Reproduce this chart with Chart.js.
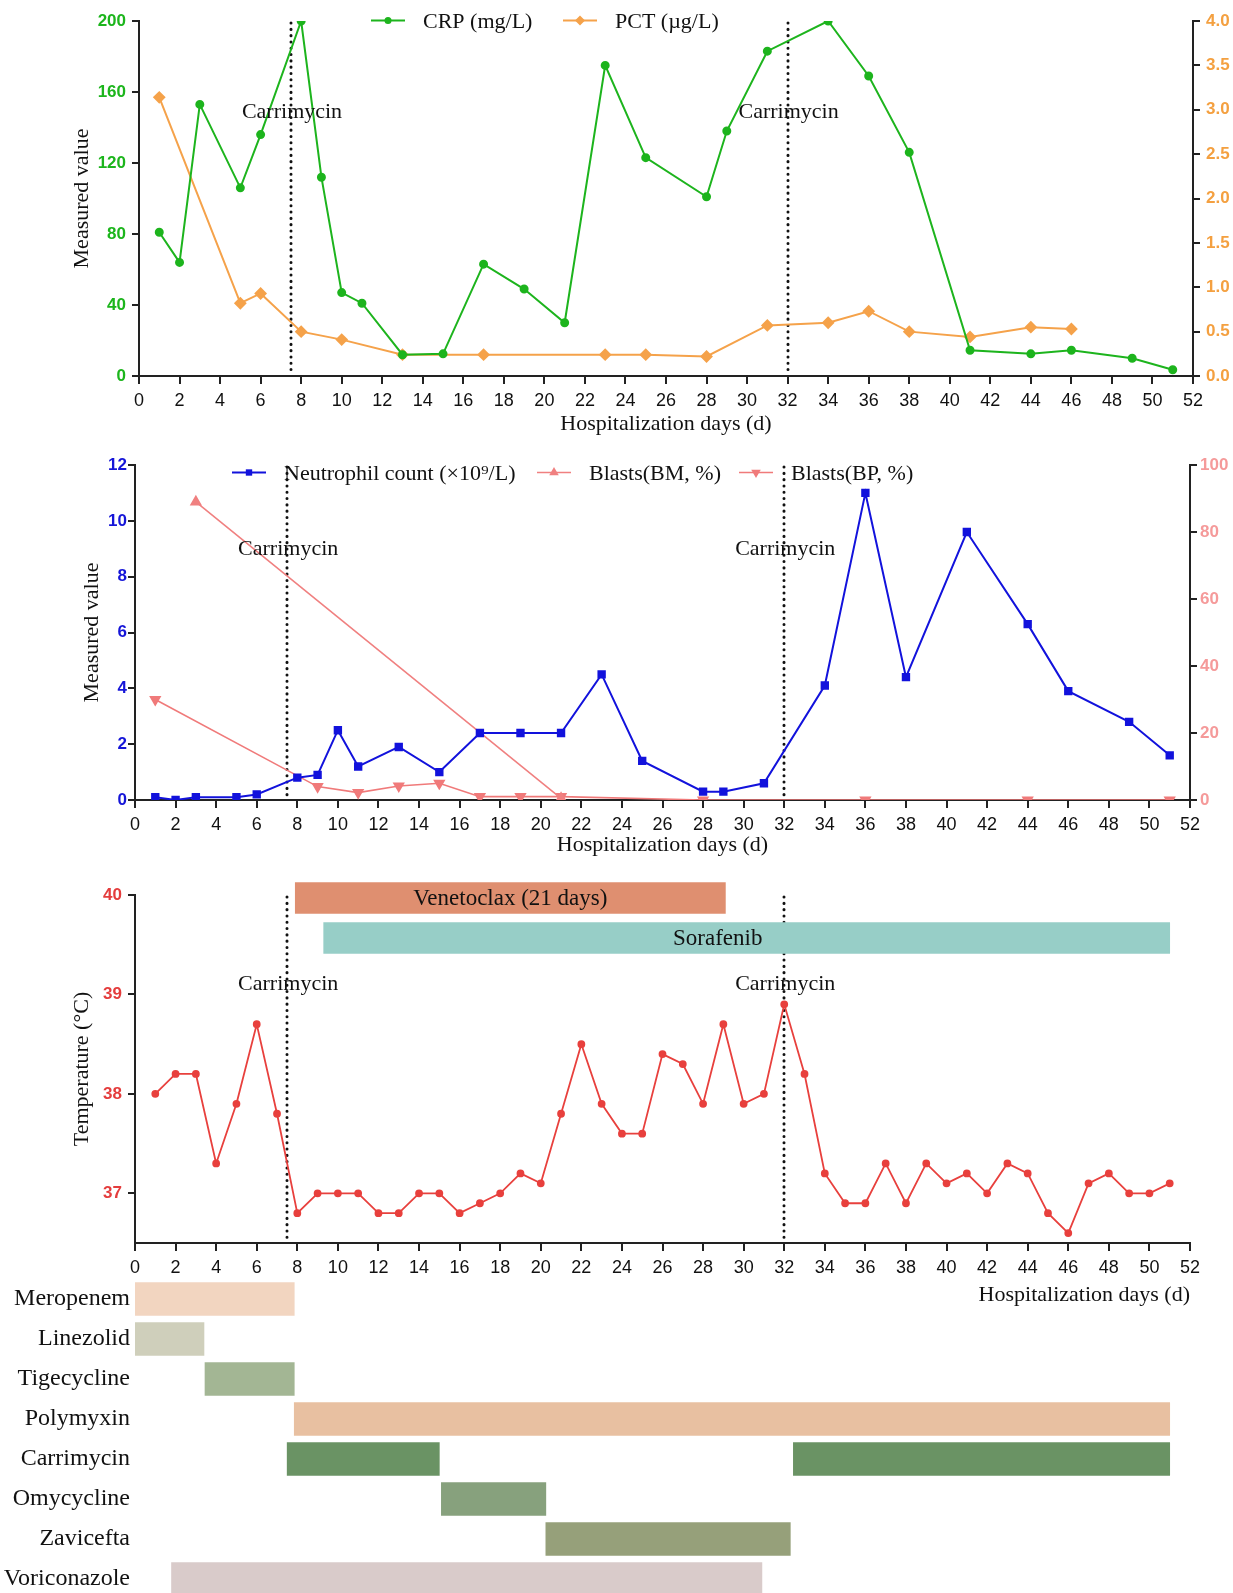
<!DOCTYPE html>
<html lang="en">
<head>
<meta charset="UTF-8">
<title>Clinical course during hospitalization</title>
<script src="https://cdn.jsdelivr.net/npm/chart.js"></script>
<style>
  body { margin: 0; background: #fff; overflow: hidden; }
  #page { position: relative; width: 1233px; height: 1593px; overflow: hidden; background: #fff; }
  #page canvas { position: absolute; left: 0; }
</style>
</head>
<body>
<div id="page">
  <canvas id="inflamChart" width="1233" height="440" style="top:0px"></canvas>
  <canvas id="cellChart" width="1233" height="420" style="top:440px"></canvas>
  <canvas id="tempChart" width="1233" height="460" style="top:860px"></canvas>
  <canvas id="targetChart" width="1233" height="96" style="top:870px"></canvas>
  <canvas id="drugChart" width="1233" height="370" style="top:1254px"></canvas>
</div>

<script>
  // ---- data ----
  const carrimycinStart = [7.5, 32];

  const crpDays   = [1, 2, 3, 5, 6, 8, 9, 10, 11, 13, 15, 17, 19, 21, 23, 25, 28, 29, 31, 34, 36, 38, 41, 44, 46, 49, 51];
  const crpValues = [81, 64, 153, 106, 136, 200, 112, 47, 41, 12, 12.5, 63, 49, 30, 175, 123, 101, 138, 183, 200, 169, 126, 14.5, 12.5, 14.5, 10, 3.5];

  const pctDays   = [1, 5, 6, 8, 10, 13, 17, 23, 25, 28, 31, 34, 36, 38, 41, 44, 46];
  const pctValues = [3.14, 0.82, 0.93, 0.5, 0.41, 0.24, 0.24, 0.24, 0.24, 0.22, 0.57, 0.6, 0.73, 0.5, 0.44, 0.55, 0.53];

  const neutDays   = [1, 2, 3, 5, 6, 8, 9, 10, 11, 13, 15, 17, 19, 21, 23, 25, 28, 29, 31, 34, 36, 38, 41, 44, 46, 49, 51];
  const neutValues = [0.1, 0, 0.1, 0.1, 0.2, 0.8, 0.9, 2.5, 1.2, 1.9, 1.0, 2.4, 2.4, 2.4, 4.5, 1.4, 0.3, 0.3, 0.6, 4.1, 11, 4.4, 9.6, 6.3, 3.9, 2.8, 1.6];

  const bmDays   = [3, 21];
  const bmValues = [89, 0.5];

  const bpDays   = [1, 9, 11, 13, 15, 17, 19, 21, 28, 36, 44, 51];
  const bpValues = [30, 4, 2.2, 4.2, 5, 1, 1, 1, 0, 0, 0, 0];

  const tempDays   = [1, 2, 3, 4, 5, 6, 7, 8, 9, 10, 11, 12, 13, 14, 15, 16, 17, 18, 19, 20, 21, 22, 23, 24, 25, 26,
                      27, 28, 29, 30, 31, 32, 33, 34, 35, 36, 37, 38, 39, 40, 41, 42, 43, 44, 45, 46, 47, 48, 49, 50, 51];
  const tempValues = [38.0, 38.2, 38.2, 37.3, 37.9, 38.7, 37.8, 36.8, 37.0, 37.0, 37.0, 36.8, 36.8, 37.0, 37.0, 36.8, 36.9,
                      37.0, 37.2, 37.1, 37.8, 38.5, 37.9, 37.6, 37.6, 38.4, 38.3, 37.9, 38.7, 37.9, 38.0, 38.9, 38.2, 37.2,
                      36.9, 36.9, 37.3, 36.9, 37.3, 37.1, 37.2, 37.0, 37.3, 37.2, 36.8, 36.6, 37.1, 37.2, 37.0, 37.0, 37.1];
  const tempTicks = [37, 38, 39, 40];

  const targetDrugs = ['Venetoclax (21 days)', 'Sorafenib'];
  const targetStart = [7.9, 9.3];
  const targetEnd   = [29.1, 51];

  const drugs     = ['Meropenem', 'Linezolid', 'Tigecycline', 'Polymyxin', 'Carrimycin', 'Omycycline', 'Zavicefta', 'Voriconazole'];
  const drugStart = [0, 0, 3.45, 7.85, 7.5, 15.1, 20.25, 1.8];
  const drugEnd   = [7.85, 3.4, 7.85, 51, 15.0, 20.25, 32.3, 30.9];
  const carrimycinSecond = [32.45, 51];

  // ---- styles ----
  const SERIF = '"Liberation Serif", "Times New Roman", serif';
  const SANS = '"Liberation Sans", Arial, sans-serif';
  const drugColors = ['#f2d5c0', '#cfcfbb', '#a3b694', '#e8c0a1', '#6a9364', '#87a17d', '#96a07a', '#d9cbca'];
  const targetColors = ['#df8f70', '#97cec7'];

  const pts = (xs, ys) => xs.map((x, i) => ({ x: x, y: ys[i] }));

  function drawMarker(ctx, style, x, y, r, color, rotation) {
    ctx.save();
    ctx.fillStyle = color;
    ctx.beginPath();
    if (style === 'rectRot') {
      ctx.moveTo(x, y - r); ctx.lineTo(x + r, y); ctx.lineTo(x, y + r); ctx.lineTo(x - r, y);
    } else if (style === 'rect') {
      const s = r * Math.SQRT2;
      ctx.rect(x - s / 2, y - s / 2, s, s);
    } else if (style === 'triangle') {
      let a = (rotation || 0) * Math.PI / 180;
      ctx.moveTo(x + Math.sin(a) * r, y - Math.cos(a) * r);
      a += 2 * Math.PI / 3;
      ctx.lineTo(x + Math.sin(a) * r, y - Math.cos(a) * r);
      a += 2 * Math.PI / 3;
      ctx.lineTo(x + Math.sin(a) * r, y - Math.cos(a) * r);
    } else {
      ctx.arc(x, y, r, 0, Math.PI * 2);
    }
    ctx.closePath();
    ctx.fill();
    ctx.restore();
  }

  // legend drawn inside the plot, line + marker like the original
  const lineLegend = {
    id: 'lineLegend',
    afterDraw(chart, args, opts) {
      if (!opts.items) return;
      const ctx = chart.ctx;
      opts.items.forEach(item => {
        const ds = chart.data.datasets[item.ds];
        ctx.save();
        ctx.strokeStyle = ds.borderColor;
        ctx.lineWidth = ds.borderWidth;
        ctx.beginPath();
        ctx.moveTo(item.x, opts.y);
        ctx.lineTo(item.x + 34, opts.y);
        ctx.stroke();
        drawMarker(ctx, ds.pointStyle, item.x + 17, opts.y, ds.pointRadius, ds.borderColor, ds.pointRotation);
        ctx.fillStyle = '#111';
        ctx.font = '22px ' + SERIF;
        ctx.textBaseline = 'middle';
        ctx.textAlign = 'left';
        ctx.fillText(ds.label, item.x + 52, opts.y + 1.5);
        ctx.restore();
      });
    }
  };

  // dotted lines at the start of each carrimycin course
  const carrimycinMarks = {
    id: 'carrimycinMarks',
    beforeDatasetsDraw(chart) {
      const { ctx, chartArea } = chart;
      const xs = chart.scales.x;
      ctx.save();
      ctx.strokeStyle = '#111';
      ctx.lineWidth = 3;
      ctx.lineCap = 'round';
      ctx.setLineDash([0.1, 6.2]);
      carrimycinStart.forEach(d => {
        const px = Math.round(xs.getPixelForValue(d));
        ctx.beginPath();
        ctx.moveTo(px, chartArea.top + 2);
        ctx.lineTo(px, chartArea.bottom - 3);
        ctx.stroke();
      });
      ctx.restore();
    },
    afterDatasetsDraw(chart, args, opts) {
      const { ctx, chartArea } = chart;
      const xs = chart.scales.x;
      ctx.save();
      ctx.fillStyle = '#111';
      ctx.font = '22px ' + SERIF;
      ctx.textAlign = 'center';
      ctx.textBaseline = 'middle';
      carrimycinStart.forEach(d => {
        ctx.fillText('Carrimycin', xs.getPixelForValue(d) + 1, chartArea.top + opts.labelY);
      });
      ctx.restore();
    }
  };

  function dayAxis(height, titlePad, align) {
    return {
      type: 'linear', min: 0, max: 52,
      afterFit: s => { s.height = height; },
      ticks: { stepSize: 2, autoSkip: false, maxRotation: 0, padding: 6, color: '#111', font: { family: SANS, size: 18 } },
      grid: { drawOnChartArea: false, tickLength: 8, color: '#222', lineWidth: 2 },
      border: { color: '#222', width: 2 },
      title: {
        display: true, text: 'Hospitalization days (d)', align: align || 'center', color: '#111',
        font: { family: SERIF, size: 22 }, padding: { top: 0, bottom: titlePad }
      }
    };
  }

  function valueAxis(opts) {
    const axis = {
      type: 'linear', position: opts.position, min: opts.min, max: opts.max,
      afterFit: s => { s.width = opts.width; },
      ticks: {
        stepSize: opts.step, padding: opts.pad, color: opts.color,
        font: { family: SANS, size: 17, weight: 'bold' }
      },
      grid: { drawOnChartArea: false, tickLength: 7, color: '#222', lineWidth: 2 },
      border: { color: '#222', width: 2 },
      title: { display: false }
    };
    if (opts.decimals) axis.ticks.callback = v => v.toFixed(opts.decimals);
    if (opts.title) {
      axis.title = {
        display: true, text: opts.title, color: '#111',
        font: { family: SERIF, size: 22 }, padding: { top: opts.titleOffset, bottom: 0 }
      };
    }
    return axis;
  }

  const common = {
    responsive: false,
    animation: false,
    events: [],
    plugins: { legend: { display: false }, tooltip: { enabled: false } }
  };

  // ---- CRP / PCT ----
  new Chart(document.getElementById('inflamChart'), {
    type: 'line',
    data: {
      datasets: [
        { label: 'CRP (mg/L)', data: pts(crpDays, crpValues), yAxisID: 'y', borderColor: '#1db41d', backgroundColor: '#1db41d',
          borderWidth: 2, pointStyle: 'circle', pointRadius: 3.5, tension: 0 },
        { label: 'PCT (\u00b5g/L)', data: pts(pctDays, pctValues), yAxisID: 'y2', borderColor: '#f5a24a', backgroundColor: '#f5a24a',
          borderWidth: 2, pointStyle: 'rectRot', pointRadius: 5, tension: 0 }
      ]
    },
    options: Object.assign({}, common, {
      layout: { padding: { top: 21, left: 0, right: 0, bottom: 0 } },
      scales: {
        x: dayAxis(64, 2.2),
        y: valueAxis({ position: 'left', min: 0, max: 200, step: 40, width: 139, pad: 6, color: '#1cb51c',
                       title: 'Measured value', titleOffset: 68.8 }),
        y2: valueAxis({ position: 'right', min: 0, max: 4, step: 0.5, width: 40, pad: 6, color: '#f4a040', decimals: 1 })
      },
      plugins: Object.assign({}, common.plugins, {
        lineLegend: { y: 20.5, items: [{ ds: 0, x: 371 }, { ds: 1, x: 563 }] },
        carrimycinMarks: { labelY: 91 }
      })
    }),
    plugins: [carrimycinMarks, lineLegend]
  });

  // ---- neutrophils / blasts ----
  new Chart(document.getElementById('cellChart'), {
    type: 'line',
    data: {
      datasets: [
        { label: 'Neutrophil count (\u00d710\u2079/L)', data: pts(neutDays, neutValues), yAxisID: 'y', borderColor: '#1212dc',
          backgroundColor: '#1212dc', borderWidth: 2, pointStyle: 'rect', pointRadius: 4.5, tension: 0 },
        { label: 'Blasts(BM, %)', data: pts(bmDays, bmValues), yAxisID: 'y2', borderColor: '#f08080', backgroundColor: '#f08080',
          borderWidth: 1.6, pointStyle: 'triangle', pointRadius: 5.5, tension: 0 },
        { label: 'Blasts(BP, %)', data: pts(bpDays, bpValues), yAxisID: 'y2', borderColor: '#f07a7a', backgroundColor: '#f07a7a',
          borderWidth: 1.6, pointStyle: 'triangle', pointRotation: 180, pointRadius: 5.5, tension: 0 }
      ]
    },
    options: Object.assign({}, common, {
      layout: { padding: { top: 25, left: 0, right: 0, bottom: 0 } },
      scales: {
        x: dayAxis(60, 1.8),
        y: valueAxis({ position: 'left', min: 0, max: 12, step: 2, width: 135, pad: 1, color: '#1515d8',
                       title: 'Measured value', titleOffset: 78.8 }),
        y2: valueAxis({ position: 'right', min: 0, max: 100, step: 20, width: 43, pad: 3, color: '#f59a9a' })
      },
      plugins: Object.assign({}, common.plugins, {
        lineLegend: { y: 32.5, items: [{ ds: 0, x: 232 }, { ds: 1, x: 537 }, { ds: 2, x: 739 }] },
        carrimycinMarks: { labelY: 84.5 }
      })
    }),
    plugins: [carrimycinMarks, lineLegend]
  });

  // ---- temperature ----
  const tempY = valueAxis({ position: 'left', min: 36.5, max: 40, step: 1, width: 135, pad: 6, color: '#e43d3d',
                            title: 'Temperature (\u00b0C)', titleOffset: 68.8 });
  tempY.afterBuildTicks = s => { s.ticks = tempTicks.map(v => ({ value: v })); };

  new Chart(document.getElementById('tempChart'), {
    type: 'line',
    data: {
      datasets: [
        { label: 'Temperature', data: pts(tempDays, tempValues), borderColor: '#e8403d', backgroundColor: '#e8403d',
          borderWidth: 1.8, pointStyle: 'circle', pointRadius: 3, tension: 0 }
      ]
    },
    options: Object.assign({}, common, {
      layout: { padding: { top: 35, left: 0, right: 43, bottom: 0 } },
      scales: { x: dayAxis(77, 11.8, 'end'), y: tempY },
      plugins: Object.assign({}, common.plugins, { carrimycinMarks: { labelY: 89 } })
    }),
    plugins: [carrimycinMarks]
  });

  // ---- targeted therapy bars above the temperature curve ----
  new Chart(document.getElementById('targetChart'), {
    type: 'bar',
    data: {
      labels: targetDrugs,
      datasets: [{ data: targetDrugs.map((d, i) => [targetStart[i], targetEnd[i]]), backgroundColor: targetColors, barThickness: 31 }]
    },
    options: Object.assign({}, common, {
      indexAxis: 'y',
      layout: { padding: { top: 8, left: 135, right: 43, bottom: 8 } },
      scales: {
        x: { type: 'linear', min: 0, max: 52, display: false },
        y: { display: false }
      },
      plugins: Object.assign({}, common.plugins, { barText: { shift: [0, -29] } })
    }),
    plugins: [{
      id: 'barText',
      afterDatasetsDraw(chart, args, opts) {
        const ctx = chart.ctx;
        ctx.save();
        ctx.fillStyle = '#111';
        ctx.font = '23px ' + SERIF;
        ctx.textAlign = 'center';
        ctx.textBaseline = 'middle';
        chart.getDatasetMeta(0).data.forEach((bar, i) => {
          ctx.fillText(chart.data.labels[i], (bar.x + bar.base) / 2 + opts.shift[i], bar.y + 1);
        });
        ctx.restore();
      }
    }]
  });

  // ---- anti-infective timeline ----
  new Chart(document.getElementById('drugChart'), {
    type: 'bar',
    data: {
      labels: drugs,
      datasets: [
        { data: drugs.map((d, i) => [drugStart[i], drugEnd[i]]), backgroundColor: drugColors, barThickness: 33, grouped: false },
        { data: drugs.map(d => d === 'Carrimycin' ? carrimycinSecond : null), backgroundColor: drugColors[4], barThickness: 33, grouped: false }
      ]
    },
    options: Object.assign({}, common, {
      indexAxis: 'y',
      layout: { padding: { top: 25, left: 0, right: 43, bottom: 25 } },
      scales: {
        x: { type: 'linear', min: 0, max: 52, display: false },
        y: {
          afterFit: s => { s.width = 135; },
          ticks: { padding: 5, color: '#111', font: { family: SERIF, size: 24 } },
          grid: { display: false, drawTicks: false },
          border: { display: false }
        }
      }
    })
  });
</script>
</body>
</html>
